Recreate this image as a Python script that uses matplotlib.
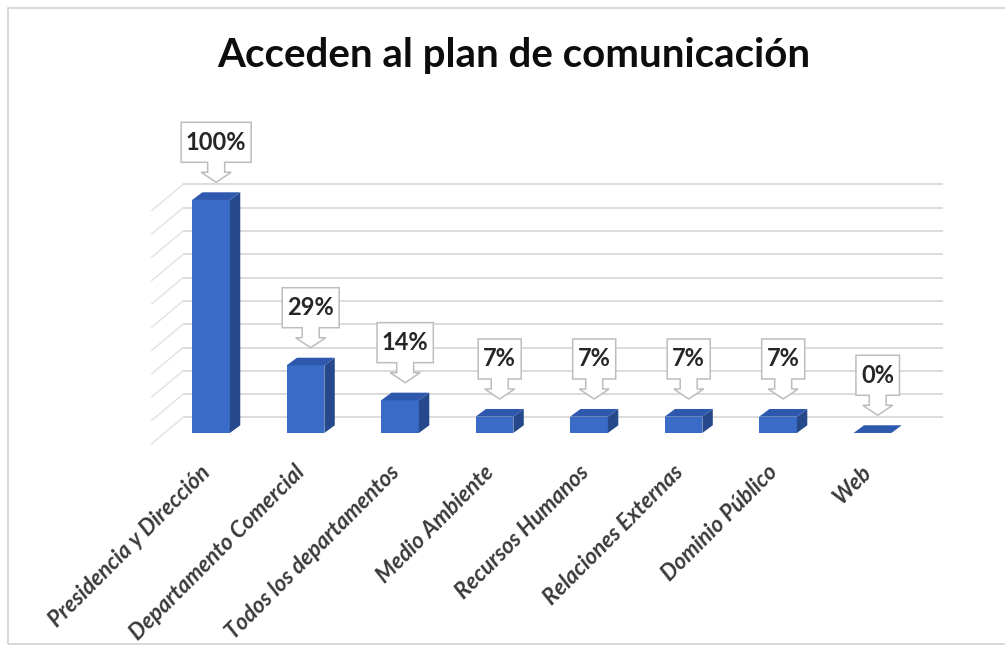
import matplotlib.pyplot as plt
from matplotlib.patches import Rectangle, Polygon, PathPatch
from matplotlib.path import Path
from matplotlib.textpath import TextPath
from matplotlib.font_manager import FontProperties
from matplotlib import transforms

plt.rcParams['font.family'] = ['Lato', 'DejaVu Sans']

categories = ["Presidencia y Dirección", "Departamento Comercial", "Todos los departamentos",
              "Medio Ambiente", "Recursos Humanos", "Relaciones Externas",
              "Dominio Público", "Web"]
values = [100, 29, 14, 7, 7, 7, 7, 0]
grid_values = list(range(0, 101, 10))
title = "Acceden al plan de comunicación"

FRONT = "#3a6bc6"
SIDE = "#26498c"
TOP = "#2d58ad"
GRID = "#d9d9d9"
SIDE_GRID = "#e4e4e4"
CALLOUT_EDGE = "#bdbdbd"

BAR_W = 0.40
BAR_DX, BAR_DY = 0.11, 3.3       # depth of each bar
WALL_DX, WALL_DY = 0.195, 6.65   # back wall behind the bar fronts
SIDE_DX, SIDE_DY = 0.33, 11.2    # depth of the left side wall
WALL_LEFT, WALL_RIGHT = -0.296, 7.75

fig = plt.figure(figsize=(10.05, 6.46), dpi=100)
ax = fig.add_axes([0.1441, 0.2937, 0.7993, 0.4328])
ax.set_xlim(-0.7, 7.8)
ax.set_ylim(-10, 110)
ax.axis('off')

# back wall and left wall gridlines
for g in grid_values:
    ax.plot([WALL_LEFT, WALL_RIGHT], [g + WALL_DY] * 2, color=GRID, lw=1.3,
            solid_capstyle='butt', zorder=1, clip_on=False)
    ax.plot([WALL_LEFT - SIDE_DX, WALL_LEFT], [g + WALL_DY - SIDE_DY, g + WALL_DY],
            color=SIDE_GRID, lw=1.1, zorder=1, clip_on=False)

# 3d bars: front face, side, top
for i, v in enumerate(values):
    x0, x1 = i - BAR_W / 2, i + BAR_W / 2
    ax.add_patch(Rectangle((x0, 0), BAR_W, v, fc=FRONT, ec='none', zorder=3, clip_on=False))
    ax.add_patch(Polygon([(x1, 0), (x1 + BAR_DX, BAR_DY), (x1 + BAR_DX, v + BAR_DY), (x1, v)],
                         closed=True, fc=SIDE, ec='none', zorder=3, clip_on=False))
    ax.add_patch(Polygon([(x0, v), (x1, v), (x1 + BAR_DX, v + BAR_DY), (x0 + BAR_DX, v + BAR_DY)],
                         closed=True, fc=TOP, ec='none', zorder=3, clip_on=False))


def callout_path(text_w, gap=10, stem=8.5, head=15, box_h=40, pad=6):
    # box with a down arrow, in pixels relative to the arrow tip
    hw = text_w / 2 + pad
    b = gap + 20
    verts = [(stem, b), (hw, b), (hw, b + box_h), (-hw, b + box_h), (-hw, b),
             (-stem, b), (-stem, b - 10), (-head, b - 10), (0, gap), (head, b - 10),
             (stem, b - 10), (stem, b), (stem, b)]
    codes = [Path.MOVETO] + [Path.LINETO] * 11 + [Path.CLOSEPOLY]
    return Path([(x / 100, y / 100) for x, y in verts], codes), b + box_h / 2


label_font = FontProperties(family=['Lato', 'DejaVu Sans'], weight='bold', size=17)
for i, v in enumerate(values):
    s = f"{v}%"
    tx, ty = i + BAR_DX / 2, v + BAR_DY
    text_w = TextPath((0, 0), s, prop=label_font).get_extents().width * 100 / 72
    path, mid = callout_path(text_w)
    trans = fig.dpi_scale_trans + transforms.ScaledTranslation(tx, ty, ax.transData)
    fig.add_artist(PathPatch(path, fc='white', ec=CALLOUT_EDGE, lw=1.1, transform=trans, zorder=5))
    t = fig.text(0, 0, s, ha='center', va='center', fontproperties=label_font, color='#262626',
                 transform=transforms.offset_copy(ax.transData, fig=fig, x=0, y=mid, units='dots'),
                 zorder=6)
    t.set_position((tx, ty))

for i, name in enumerate(categories):
    ax.text(i - 0.04, -15.5, name, rotation=45, rotation_mode='anchor', ha='right', va='center',
            fontsize=16, fontweight='bold', fontstyle='italic', color='#3a3a3a', clip_on=False)

fig.text(0.511, 1 - 67 / 646, title, ha='center', va='baseline', fontsize=29,
         fontweight='bold', color='#0d0d0d')

# outer chart frame
fig.add_artist(Rectangle((7.5 / 1005, 2 / 646), 1.0, (646 - 9.5) / 646, transform=fig.transFigure,
                         fill=False, ec='#d2d2d2', lw=1.2))

fig.savefig("out.png", dpi=100, facecolor='white')
